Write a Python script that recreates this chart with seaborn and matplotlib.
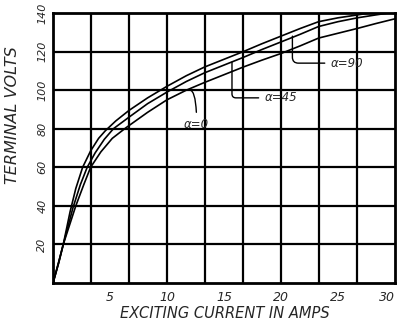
import numpy as np
import pandas as pd
import matplotlib
matplotlib.use("Agg")
import matplotlib.pyplot as plt
import seaborn as sns

# Data
amps_a = [0, 0.5, 0.9, 1.5, 2.0, 2.6, 3.3, 4.0, 4.6, 5.5, 6.67, 8.3, 10, 11.7,
          13.3, 15, 16.7, 18.3, 20, 21.7, 23.3, 25, 26.7, 28.3, 30]
volts_a = [0, 11, 20, 37, 49, 60, 68.5, 75, 79, 84, 89.5, 96, 102, 107.5,
           112, 116, 120, 124, 128, 132, 135.5, 137.5, 139, 140.5, 141.5]
amps_b = [0, 0.5, 0.9, 1.75, 2.4, 3.0, 3.7, 4.5, 5.3, 6.67, 8.3, 10, 11.7,
          13.3, 15, 16.7, 18.3, 20, 21.7, 23.3, 25, 26.7, 28.3, 30]
volts_b = [0, 10.5, 20, 39, 51, 60, 67.5, 74.5, 80, 86, 93, 99, 104.5,
           109, 113, 117, 121, 125, 129, 133, 135.5, 137.5, 139, 140.5]
amps_c = [0, 0.5, 0.9, 2.0, 2.7, 3.3, 4.2, 5.2, 6.4, 8.3, 10, 11.7, 13.3,
          15, 16.7, 18.3, 20, 21.7, 23.3, 25, 26.7, 28.3, 30]
volts_c = [0, 10.5, 20, 40, 51, 60, 68, 75, 80.5, 88.5, 95, 100, 104,
           108, 112, 115.5, 119, 123, 127, 129.5, 132, 134.5, 137]
curve_names = ["A", "B", "C"]

x_tick_vals = [5, 10, 15, 20, 25, 30]
y_tick_vals = [20, 40, 60, 80, 100, 120, 140]
x_grid_count = 9
y_grid_step = 20

labels_text = ["α=0", "α=45", "α=90"]
label_targets = [(12.0, 100), (15.7, 114.5), (21.0, 128)]
label_pos = [(12.6, 82), (20.0, 96), (25.8, 114)]

df = pd.concat([
    pd.DataFrame({"amps": amps_a, "volts": volts_a, "curve": curve_names[0]}),
    pd.DataFrame({"amps": amps_b, "volts": volts_b, "curve": curve_names[1]}),
    pd.DataFrame({"amps": amps_c, "volts": volts_c, "curve": curve_names[2]}),
])

sns.set_style("white")
plt.rcParams['font.family'] = ['DejaVu Sans']

fig = plt.figure(figsize=(4.0, 3.29), dpi=100)
ax = fig.add_axes([53/400, 1-283/329, 342/400, 270/329])

ax.set_xlim(0, 30)
ax.set_ylim(0, 140)

# grid: vertical every 30/9 A, horizontal every 20 V
for i in range(1, x_grid_count):
    ax.axvline(30 / x_grid_count * i, color="black", linewidth=1.6, zorder=1)
for v in y_tick_vals[:-1]:
    ax.axhline(v, color="black", linewidth=1.6, zorder=1)

sns.lineplot(data=df, x="amps", y="volts", units="curve", estimator=None,
             color="black", linewidth=1.2, ax=ax, sort=False, legend=False,
             zorder=3)
ax.set_xlim(0, 30)
ax.set_ylim(0, 140)

ax.set_xticks(x_tick_vals)
ax.set_yticks(y_tick_vals)
ax.grid(False)
ax.tick_params(which="both", length=0)
ax.tick_params(axis="x", pad=6, labelsize=9)
ax.tick_params(axis="y", pad=4, labelsize=8)
xt = ax.get_xticklabels()
for t in xt:
    t.set_fontstyle("italic")
xt[-1].set_ha("right")
for t in ax.get_yticklabels():
    t.set_fontstyle("italic")
    t.set_rotation(90)
    t.set_va("center")

for s in ax.spines.values():
    s.set_visible(True)
    s.set_color("black")
    s.set_linewidth(2)

ax.set_xlabel("EXCITING CURRENT IN AMPS", fontsize=10.5, fontstyle="italic")
ax.set_ylabel("TERMINAL VOLTS", fontsize=11.5, fontstyle="italic")
ax.xaxis.set_label_coords(0.503, -0.085)
ax.yaxis.set_label_coords(-0.097, 0.622)

styles = ["angle3,angleA=90,angleB=0", "angle,angleA=0,angleB=90,rad=4",
          "angle,angleA=0,angleB=90,rad=6"]
for txt, tgt, pos, cs in zip(labels_text, label_targets, label_pos, styles):
    ax.annotate(txt, xy=tgt, xytext=pos, fontsize=8.5, fontstyle="italic",
                ha="center", va="center",
                arrowprops=dict(arrowstyle="-", color="black", lw=1.0,
                                connectionstyle=cs, shrinkA=2, shrinkB=0))

fig.savefig("out.png", dpi=100)
